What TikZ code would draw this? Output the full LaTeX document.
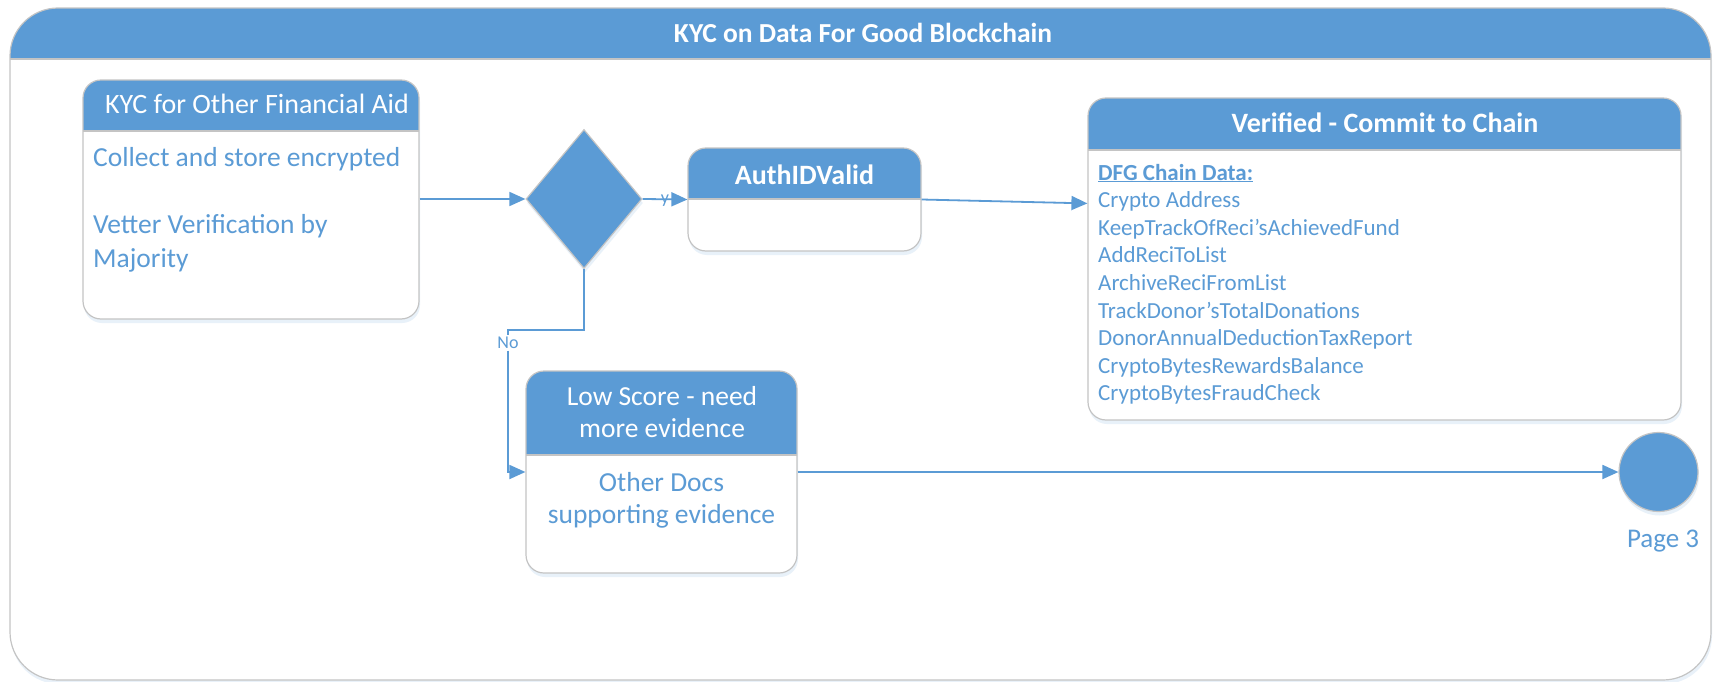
\documentclass[tikz,border=0pt]{standalone}
\usepackage{fontspec}
\setmainfont{Carlito}
\usetikzlibrary{shapes.geometric,arrows.meta,shadows,positioning}

\definecolor{dfgblue}{HTML}{5B9BD5}
\definecolor{dfggrey}{HTML}{C4C4C4}

\tikzset{
  soft shadow/.style={drop shadow={shadow xshift=1pt, shadow yshift=-4pt,
      fill=dfgblue!30, opacity=.45}},
  card/.style={draw=dfggrey, line width=1.2pt, fill=white, rounded corners=18pt,
    inner sep=0pt, soft shadow,
    path picture={
      \fill[dfgblue, sharp corners] (path picture bounding box.north west)
        rectangle ([yshift=-#1]path picture bounding box.north east);
      \draw[dfggrey, line width=1.2pt, sharp corners]
        ([yshift=-#1]path picture bounding box.north west)
        -- ([yshift=-#1]path picture bounding box.north east);
    }},
  headtext/.style={text=white, inner sep=0pt, align=center},
  bodytext/.style={text=dfgblue, inner sep=0pt},
  flowline/.style={draw=dfgblue, line width=1.8pt},
  flow/.style={flowline, -{Triangle[length=16pt, width=14pt]}},
  tag/.style={text=dfgblue, inner sep=1.5pt, font=\fontsize{18}{21}\selectfont},
}

\begin{document}
\begin{tikzpicture}[x=1pt, y=-1pt, font=\fontsize{27.5}{33}\selectfont]
\useasboundingbox (0,0) rectangle (1713,682);

% outer frame and title
\node[card=51pt, rounded corners=48pt, minimum width=1701pt, minimum height=672pt]
  (frame) at (860.5,344) {};
\node[headtext, anchor=base, font=\bfseries\fontsize{27.5}{32}\selectfont] (title)
  at (863,43) {KYC on Data For Good Blockchain};

% KYC box
\node[card=51pt, minimum width=336pt, minimum height=239pt] (kyc) at (251,199.5) {};
\node[headtext, anchor=base, font=\fontsize{28}{33}\selectfont] (kychead) at (257,114)
  {KYC for Other Financial Aid};
\node[bodytext, anchor=base west] (collect) at (93,166) {Collect and store encrypted};
\node[bodytext, anchor=west, align=left, font=\fontsize{27.5}{34}\selectfont] (vetter)
  at (93,243) {Vetter Verification by\\Majority};

% decision
\node[diamond, draw=dfggrey, line width=1.2pt, fill=dfgblue, inner sep=0pt,
  minimum width=116pt, minimum height=139pt, soft shadow] (decide) at (584,199) {};

% AuthIDValid
\node[card=51pt, minimum width=233pt, minimum height=103pt] (auth) at (804.5,199.5) {};
\node[headtext, anchor=base, font=\bfseries\fontsize{28}{33}\selectfont] (authhead)
  at (804.5,184) {AuthIDValid};

% Verified box
\node[card=52pt, minimum width=593pt, minimum height=322pt] (chain) at (1384.5,259) {};
\node[headtext, anchor=base, font=\bfseries\fontsize{28}{33}\selectfont] (chainhead)
  at (1385,133) {Verified - Commit to Chain};
\node[bodytext, anchor=base west, font=\bfseries\fontsize{23}{27}\selectfont]
  (chaindata) at (1098,180) {\underline{DFG Chain Data:}};
\foreach \entry [count=\i] in {Crypto Address, KeepTrackOfReci’sAchievedFund,
    AddReciToList, ArchiveReciFromList, TrackDonor’sTotalDonations,
    DonorAnnualDeductionTaxReport, CryptoBytesRewardsBalance, CryptoBytesFraudCheck}
  \node[bodytext, anchor=base west, font=\fontsize{23}{27}\selectfont]
    (item\i) at (1098,{180+27.6*\i}) {\entry};

% Low score box
\node[card=84pt, minimum width=271pt, minimum height=202pt] (low) at (661.5,472) {};
\node[headtext, font=\fontsize{27.5}{32}\selectfont] (lowhead) at (662,412)
  {Low Score - need\\more evidence};
\node[bodytext, align=center, font=\fontsize{27.5}{32}\selectfont] (lowbody)
  at (661.5,500) {Other Docs\\supporting evidence};

% off page connector
\node[circle, draw=dfggrey, line width=1.2pt, fill=dfgblue, minimum size=79pt,
  inner sep=0pt, soft shadow] (page3) at (1658.5,472) {};
\node[bodytext, anchor=base, font=\fontsize{27}{32}\selectfont] (pagetext)
  at (1663,547) {Page 3};

% connectors
\draw[flow] (kyc.east |- decide) -- (decide.west);
\draw[flow] (decide.east) -- node[tag, pos=.5, yshift=-1pt] {y} (auth.west);
\draw[flow] (auth.east) -- ([yshift=-106pt]chain.north west);
\node[tag] (no) at (508,343) {No};
\draw[flowline] (decide.south) -- ++(0,61) -| (no);
\draw[flow] (no) |- (low.west);
\draw[flow] (low.east) -- (page3.west);
\end{tikzpicture}
\end{document}
